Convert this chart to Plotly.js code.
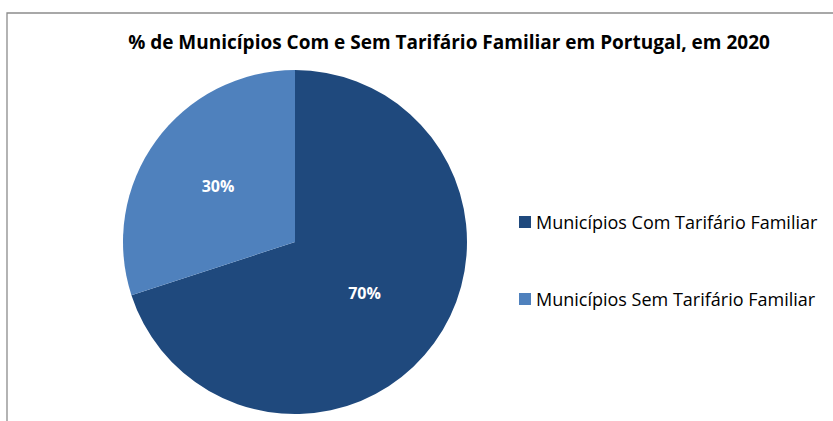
<!DOCTYPE html>
<html><head><meta charset="utf-8">
<script src="https://cdn.plot.ly/plotly-3.0.1.min.js"></script>
<style>html,body{margin:0;padding:0;background:#fff}#chart{width:833px;height:421px}</style>
</head><body><div id="chart"></div>
<script>
const categories = ["Municípios Com Tarifário Familiar", "Municípios Sem Tarifário Familiar"];
const values = [70, 30];
const colors = ["#1F497D", "#4F81BD"];
const titleText = "% de Municípios Com e Sem Tarifário Familiar em Portugal, em 2020";

const W = 833, H = 421;
const px = x => x / W, py = y => 1 - y / H;

const trace = {
  type: "pie",
  labels: categories,
  values: values,
  sort: false,
  direction: "clockwise",
  rotation: 0,
  marker: {colors: colors, line: {width: 0}},
  textinfo: "percent",
  texttemplate: "%{percent:.0%}",
  textposition: "inside",
  insidetextorientation: "horizontal",
  textfont: {family: "Open Sans, sans-serif", size: 16, color: "#ffffff", weight: "bold"},
  domain: {x: [px(123), px(467)], y: [py(414), py(70)]},
  showlegend: false,
  hoverinfo: "label+percent"
};

const shapes = [{
  type: "rect", xref: "paper", yref: "paper",
  x0: px(7), x1: 1.2, y0: -0.2, y1: py(13),
  line: {color: "#8c8c8c", width: 1.3}, fillcolor: "rgba(0,0,0,0)"
}];
const annotations = [];
const legendY = [222, 299];
categories.forEach((c, i) => {
  shapes.push({type: "rect", xref: "paper", yref: "paper",
    x0: px(519), x1: px(531), y0: py(legendY[i] + 6), y1: py(legendY[i] - 6),
    line: {width: 0}, fillcolor: colors[i]});
  annotations.push({xref: "paper", yref: "paper", x: px(534), y: py(legendY[i]),
    xanchor: "left", yanchor: "middle", showarrow: false, text: c,
    font: {family: "Open Sans, sans-serif", size: 18, color: "#000000"}});
});

const layout = {
  width: W, height: H,
  margin: {l: 0, r: 0, t: 0, b: 0},
  paper_bgcolor: "#ffffff",
  title: {text: titleText, x: px(449), xanchor: "center", y: py(42), yanchor: "middle",
    font: {family: "Open Sans, sans-serif", size: 19, color: "#000000", weight: "bold"}},
  shapes: shapes,
  annotations: annotations,
  showlegend: false
};
Plotly.newPlot("chart", [trace], layout, {displayModeBar: false, staticPlot: true});
</script></body></html>
